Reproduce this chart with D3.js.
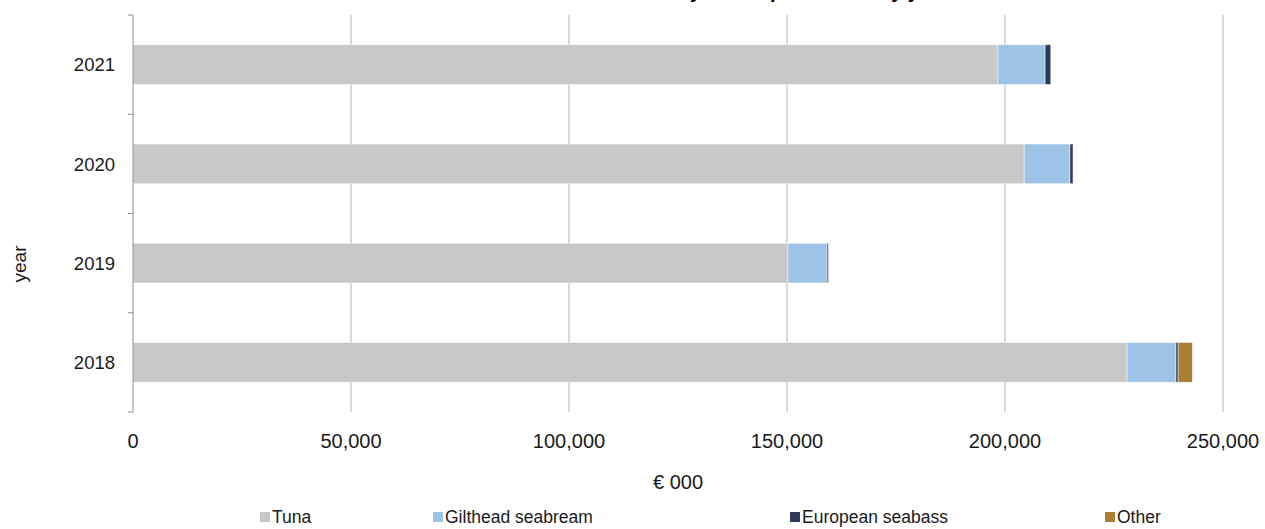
<!DOCTYPE html>
<html><head><meta charset="utf-8">
<script src="https://cdn.jsdelivr.net/npm/d3@7"></script>
<style>body{margin:0;background:#fff}svg{display:block;font-family:"Liberation Sans",Arial,sans-serif}</style>
</head><body><svg id="c" width="1265" height="529"></svg>
<script>
const years = ["2021","2020","2019","2018"];
const seriesNames = ["Tuna","Gilthead seabream","European seabass","Other"];
const tuna = [198400, 204400, 150200, 228000];
const gilthead = [10800, 10500, 9000, 11200];
const seabass = [1300, 700, 300, 500];
const other = [0, 0, 0, 3300];
const xTicks = [0, 50000, 100000, 150000, 200000, 250000];
const colors = ["#c8c8c8","#9dc3e6","#2e3a5a","#a87f35"];
const title = "Turnover by main species and by year";

const svg = d3.select("#c");
const L = 133, R = 1223, T = 15, B = 412;
const x = d3.scaleLinear().domain([0,250000]).range([L,R]);
const y = d3.scaleBand().domain(years).range([T,B]).paddingInner(0.6).paddingOuter(0.3);
const yb = d3.scaleBand().domain(years).range([T,B]);

svg.append("text").attr("x",587).attr("y",-2)
  .attr("font-weight","bold").attr("font-size",20).attr("fill","#000").text(title);

// gridlines
svg.append("g").selectAll("line").data(xTicks.slice(1)).join("line")
  .attr("x1",d=>x(d)).attr("x2",d=>x(d)).attr("y1",T).attr("y2",B)
  .attr("stroke","#d9d9d9").attr("stroke-width",2);

// bars
const rows = years.map((yr,i)=>({year:yr, Tuna:tuna[i], "Gilthead seabream":gilthead[i], "European seabass":seabass[i], Other:other[i]}));
const stack = d3.stack().keys(seriesNames)(rows);
svg.append("g").selectAll("g").data(stack).join("g").attr("fill",(d,i)=>colors[i])
  .selectAll("rect").data(d=>d).join("rect")
  .attr("x",d=>x(d[0])).attr("width",d=>Math.max(0,x(d[1])-x(d[0])))
  .attr("y",d=>y(d.data.year)).attr("height",y.bandwidth())
  .attr("stroke",d=>(d[1]-d[0])>0?"#ffffff":"none").attr("stroke-width",0.8).attr("stroke-opacity",0.6);

// left axis
const ax = svg.append("g");
ax.append("line").attr("x1",L).attr("x2",L).attr("y1",T).attr("y2",B).attr("stroke","#8c8c8c");
const bounds = years.map(d=>yb(d)).concat([B]);
ax.selectAll("line.t").data(bounds).join("line").attr("class","t")
  .attr("x1",L-5).attr("x2",L).attr("y1",d=>d).attr("y2",d=>d).attr("stroke","#8c8c8c");
ax.selectAll("text").data(years).join("text")
  .attr("x",115).attr("y",d=>y(d)+y.bandwidth()/2).attr("dy","0.36em")
  .attr("text-anchor","end").attr("font-size",18.5).attr("fill","#1a1a1a").text(d=>d);

// x tick labels
svg.append("g").selectAll("text").data(xTicks).join("text")
  .attr("x",d=>x(d)).attr("y",448).attr("text-anchor","middle")
  .attr("font-size",20).attr("fill","#1a1a1a").text(d=>d3.format(",")(d));

svg.append("text").attr("x",(L+R)/2).attr("y",489).attr("text-anchor","middle")
  .attr("font-size",20).attr("fill","#1a1a1a").text("€ 000");
svg.append("text").attr("transform","translate(26,264) rotate(-90)").attr("text-anchor","middle")
  .attr("font-size",19).attr("fill","#1a1a1a").text("year");

// legend
const legX = [260, 433, 790, 1105];
const lg = svg.append("g").selectAll("g").data(seriesNames).join("g")
  .attr("transform",(d,i)=>`translate(${legX[i]},512)`);
lg.append("rect").attr("width",10).attr("height",10).attr("fill",(d,i)=>colors[i]);
lg.append("text").attr("x",12).attr("y",11).attr("font-size",17.5).attr("fill","#1a1a1a").text(d=>d);
</script></body></html>
